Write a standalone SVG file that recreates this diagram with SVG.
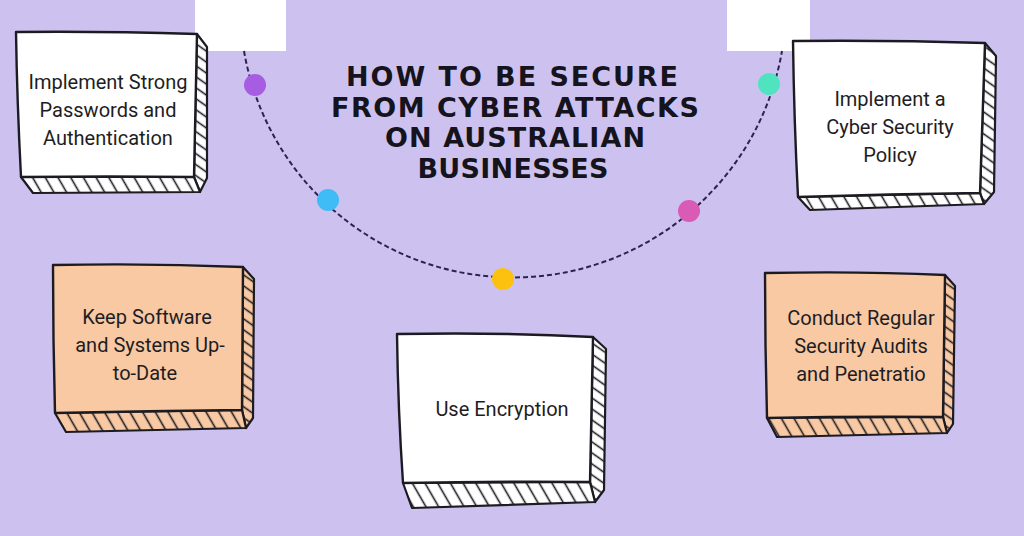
<svg xmlns="http://www.w3.org/2000/svg" width="1024" height="536" viewBox="0 0 1024 536">
<defs>
<pattern id="hb" width="11" height="11" patternUnits="userSpaceOnUse" patternTransform="rotate(-30)">
<line x1="5.5" y1="-2" x2="5.5" y2="13" stroke="#1d1b22" stroke-width="1.6"/>
</pattern>
<pattern id="hr" width="9" height="9" patternUnits="userSpaceOnUse" patternTransform="rotate(35)">
<line x1="-2" y1="4.5" x2="11" y2="4.5" stroke="#1d1b22" stroke-width="1.6"/>
</pattern>
<style>
.face{stroke:#1d1b22;stroke-width:2.4;stroke-linejoin:round}
.white .face,.white .side{fill:#ffffff}
.peach .face,.peach .side{fill:#f8c9a3}
.side{stroke:none}
.hb{fill:url(#hb);stroke:#1d1b22;stroke-width:2.2;stroke-linejoin:round}
.hr{fill:url(#hr);stroke:#1d1b22;stroke-width:2.2;stroke-linejoin:round}
.lbl{font-family:Roboto,"Liberation Sans",sans-serif;font-weight:400;font-size:20px;fill:#1f1d24;text-anchor:middle}
.title{font-family:"DejaVu Sans","Liberation Sans",sans-serif;font-weight:700;font-size:27px;fill:#15131c;text-anchor:middle}
.arc{fill:none;stroke:#2a2450;stroke-width:2;stroke-dasharray:5 3}
</style>
</defs>
<rect width="1024" height="536" fill="#cdc2ef"/>
<rect x="195" y="0" width="91" height="51" fill="#ffffff"/>
<rect x="727" y="0" width="83" height="51" fill="#ffffff"/>

<g id="connectors">
<path class="arc" d="M244 51 A273 273 0 0 0 782 51"/>
<circle cx="255" cy="85" r="11" fill="#a65de2"/>
<circle cx="328" cy="200" r="11" fill="#3fbcf6"/>
<circle cx="503" cy="279" r="11" fill="#fcc10e"/>
<circle cx="689" cy="211" r="11" fill="#d95bb6"/>
<circle cx="769" cy="84" r="11" fill="#4fe3bf"/>
</g>

<g id="title">
<text class="title" x="512" y="86" textLength="332" lengthAdjust="spacing">HOW TO BE SECURE</text>
<text class="title" x="515" y="117" textLength="368" lengthAdjust="spacing">FROM CYBER ATTACKS</text>
<text class="title" x="515" y="147" textLength="260" lengthAdjust="spacing">ON AUSTRALIAN</text>
<text class="title" x="513" y="178" textLength="191" lengthAdjust="spacing">BUSINESSES</text>
</g>

<g id="n1" class="white">
<path class="side" d="M197 34 L207 47 L207 178 L200 192 L194 177 Z"/>
<path class="hr" d="M197 34 L207 47 L207 178 L200 192 L194 177 Z"/>
<path class="side" d="M21 177 L194 177 L200 192 L33 193 Z"/>
<path class="hb" d="M21 177 L194 177 L200 192 L33 193 Z"/>
<path class="face" d="M16 32 Q100 31 197 34 L194 177 Q110 176 21 177 Q17 100 16 32 Z"/>
<text class="lbl" x="108" y="89">Implement Strong</text>
<text class="lbl" x="108" y="117">Passwords and</text>
<text class="lbl" x="108" y="145">Authentication</text>
</g>

<g id="n2" class="white">
<path class="side" d="M985 43 L996 56 L994 192 L984 204 L980 193 Z"/>
<path class="hr" d="M985 43 L996 56 L994 192 L984 204 L980 193 Z"/>
<path class="side" d="M798 197 L980 193 L984 204 L810 210 Z"/>
<path class="hb" d="M798 197 L980 193 L984 204 L810 210 Z"/>
<path class="face" d="M793 41 Q890 40 985 43 L980 193 Q890 194 798 197 Q794 120 793 41 Z"/>
<text class="lbl" x="890" y="106">Implement a</text>
<text class="lbl" x="890" y="134">Cyber Security</text>
<text class="lbl" x="890" y="162">Policy</text>
</g>

<g id="n3" class="peach">
<path class="side" d="M243 267 L254 279 L253 418 L246 428 L242 410 Z"/>
<path class="hr" d="M243 267 L254 279 L253 418 L246 428 L242 410 Z"/>
<path class="side" d="M55 413 L242 410 L246 428 L66 432 Z"/>
<path class="hb" d="M55 413 L242 410 L246 428 L66 432 Z"/>
<path class="face" d="M53 265 Q150 263 243 267 L242 410 Q150 411 55 413 Q53 340 53 265 Z"/>
<text class="lbl" x="147" y="324">Keep Software</text>
<text class="lbl" x="150" y="352">and Systems Up-</text>
<text class="lbl" x="145" y="380">to-Date</text>
</g>

<g id="n4" class="white">
<path class="side" d="M593 337 L606 349 L604 490 L595 502 L590 482 Z"/>
<path class="hr" d="M593 337 L606 349 L604 490 L595 502 L590 482 Z"/>
<path class="side" d="M403 483 L590 482 L595 502 L412 508 Z"/>
<path class="hb" d="M403 483 L590 482 L595 502 L412 508 Z"/>
<path class="face" d="M397 334 Q500 332 593 337 L590 482 Q500 481 403 483 Q398 410 397 334 Z"/>
<text class="lbl" x="502" y="416">Use Encryption</text>
</g>

<g id="n5" class="peach">
<path class="side" d="M945 275 L955 286 L953 424 L947 433 L943 417 Z"/>
<path class="hr" d="M945 275 L955 286 L953 424 L947 433 L943 417 Z"/>
<path class="side" d="M767 418 L943 417 L947 433 L777 437 Z"/>
<path class="hb" d="M767 418 L943 417 L947 433 L777 437 Z"/>
<path class="face" d="M765 273 Q860 271 945 275 L943 417 Q860 416 767 418 Q765 345 765 273 Z"/>
<text class="lbl" x="861" y="325">Conduct Regular</text>
<text class="lbl" x="861" y="353">Security Audits</text>
<text class="lbl" x="861" y="381">and Penetratio</text>
</g>
</svg>
